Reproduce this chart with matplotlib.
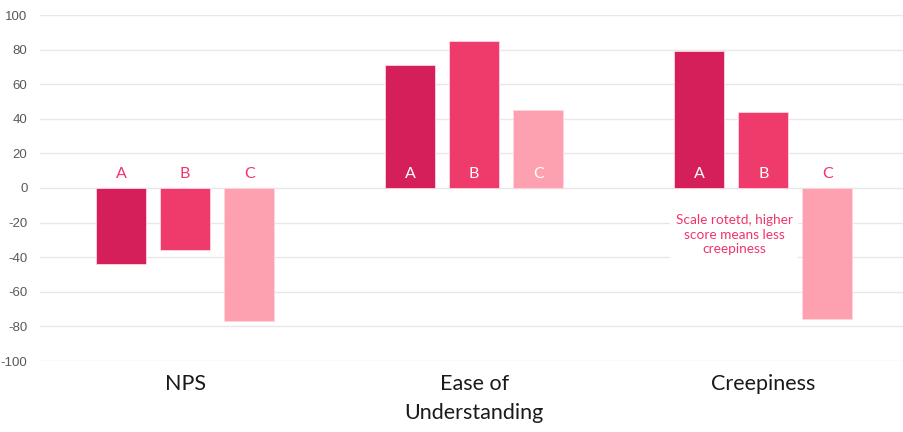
import matplotlib.pyplot as plt
import numpy as np

categories = ["NPS", "Ease of\nUnderstanding", "Creepiness"]
series_names = ["A", "B", "C"]
values_a = [-44, 71, 79]
values_b = [-36, 85, 44]
values_c = [-77, 45, -76]
y_ticks = [100, 80, 60, 40, 20, 0, -20, -40, -60, -80, -100]
note = "Scale rotetd, higher\nscore means less\ncreepiness"

colors = ["#D41F5A", "#EF3B6C", "#FDA0B0"]
label_pink = "#F0356C"

fig = plt.figure(figsize=(9.04, 4.32), dpi=100)
ax = fig.add_axes([40 / 904, 1 - 361 / 432, 864 / 904, 346 / 432])

x = np.arange(len(categories))
width = 0.173
step = 0.2215
series = [values_a, values_b, values_c]

for i, (name, vals) in enumerate(zip(series_names, series)):
    pos = x + (i - 1) * step
    ax.bar(pos, vals, width=width, color=colors[i], edgecolor="#FFD6E0",
           linewidth=0.6, zorder=3)
    for px, v in zip(pos, vals):
        ax.text(px, 8, name, ha="center", va="center", fontsize=11.5,
                family="Lato", color="white" if v > 0 else label_pink, zorder=4)

ax.set_ylim(-100, 100)
ax.set_xlim(-0.502, 2.487)
ax.set_yticks(y_ticks)
ax.set_yticklabels([str(t) for t in y_ticks], family="Liberation Sans",
                   fontsize=9.5, color="#595959")
ax.tick_params(axis="y", length=0, pad=9)
ax.set_xticks([])
ax.grid(axis="y", color="#E8E8E8", linewidth=1, zorder=0)
for s in ax.spines.values():
    s.set_visible(False)

for xi, cat in zip(x, categories):
    ax.text(xi, -107.5, cat, ha="center", va="top", fontsize=15.5, family="Lato",
            color="#1A1A1A", linespacing=1.55, transform=ax.transData,
            clip_on=False)

ax.text(x[2] - 0.1, -27, note, ha="center", va="center", fontsize=9.8,
        family="Lato", color=label_pink, linespacing=1.25, zorder=4,
        bbox=dict(facecolor="white", edgecolor="none", pad=4))

fig.savefig("out.png", dpi=100)
